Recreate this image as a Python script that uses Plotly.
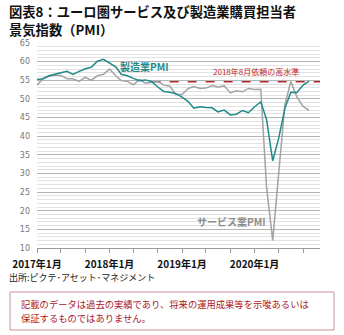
import plotly.graph_objects as go
import pandas as pd

months = pd.date_range("2017-01-01", "2020-10-01", freq="MS")

manufacturing = [
    55.2, 55.4, 56.2, 56.7, 57.0, 57.4, 56.6, 57.4, 58.1, 58.5, 60.1, 60.6,
    59.6, 58.6, 56.6, 56.2, 55.5, 54.9, 55.1, 54.6, 53.2, 52.0, 51.8, 51.4,
    50.5, 49.3, 47.5, 47.9, 47.7, 47.6, 46.5, 47.0, 45.7, 45.9, 46.9, 46.3,
    47.9, 49.2, 44.5, 33.4, 39.4, 47.4, 51.8, 51.7, 53.7, 54.8,
]
services = [
    53.7, 55.5, 56.0, 56.4, 56.3, 55.4, 55.4, 54.7, 55.8, 55.0, 56.2, 56.6,
    58.0, 56.2, 54.9, 54.7, 53.8, 55.2, 54.2, 54.4, 54.7, 53.7, 53.4, 51.2,
    51.2, 52.8, 53.3, 52.8, 52.9, 53.6, 53.2, 53.5, 51.6, 52.2, 51.9, 52.8,
    52.5, 52.6, 26.4, 12.0, 30.5, 48.3, 54.7, 50.5, 48.0, 46.9,
]
year_ticks = ["2017-01-01", "2018-01-01", "2019-01-01", "2020-01-01"]
year_labels = ["2017年1月", "2018年1月", "2019年1月", "2020年1月"]
ref_month = "2018-08-01"
x_end = "2020-11-25"

TEAL = "#1f8a89"
GRAY = "#a3a3a3"
JP = "Noto Sans CJK JP"

L, T, PW, PH = 37, 43, 283, 205


def px(x):
    return (x - L) / PW


def py(y):
    return 1 - (y - T) / PH


ref_value = manufacturing[list(months.strftime("%Y-%m-%d")).index(ref_month)]

fig = go.Figure()
fig.add_trace(go.Scatter(x=[ref_month, x_end], y=[ref_value, ref_value], mode="lines",
                         line=dict(color="#b02a2a", width=1.5, dash="dash"), hoverinfo="skip"))
fig.add_trace(go.Scatter(x=months, y=services, mode="lines",
                         line=dict(color=GRAY, width=1.5)))
fig.add_trace(go.Scatter(x=months, y=manufacturing, mode="lines",
                         line=dict(color=TEAL, width=1.5)))

# white gaps in the horizontal grid at each 4-month tick
for d in pd.date_range("2017-05-01", "2020-09-01", freq="4MS"):
    fig.add_shape(type="line", xref="x", yref="paper", x0=d, x1=d, y0=0, y1=1,
                  line=dict(color="white", width=2), layer="between")

fig.update_layout(
    width=344, height=335,
    margin=dict(l=L, r=344 - L - PW, t=T, b=335 - T - PH),
    paper_bgcolor="white", plot_bgcolor="white",
    showlegend=False,
    font=dict(family=JP),
)
fig.update_xaxes(
    range=["2017-01-01", x_end], tickvals=year_ticks, ticktext=[f"<b>{t}</b>" for t in year_labels],
    showgrid=False, showline=True, linecolor="#999999", linewidth=1,
    ticks="outside", ticklen=4, tickcolor="#999999", ticklabelstandoff=3,
    tickfont=dict(family=JP, size=10, color="#111111"),
    minor=dict(dtick="M4", tick0="2017-01-01", ticks="outside", ticklen=4,
               tickcolor="#999999", showgrid=False),
    zeroline=False,
)
fig.update_yaxes(
    range=[10, 65], dtick=5, showgrid=True, gridcolor="#b4b4b4", gridwidth=1,
    tickfont=dict(family="DejaVu Sans", size=8, color="#777777"),
    ticks="", ticklabelstandoff=6,
    minor=dict(dtick=1, showgrid=True, gridcolor="#e2e2e2", gridwidth=1),
    zeroline=False, showline=False,
)

fig.add_annotation(xref="paper", yref="paper", x=px(8), y=py(11.5), xanchor="left", yanchor="middle",
                   text="<b>図表8：ユーロ圏サービス及び製造業購買担当者</b>",
                   showarrow=False, align="left", borderpad=0,
                   font=dict(family=JP, size=13.3, color="#111111"))
fig.add_annotation(xref="paper", yref="paper", x=px(8), y=py(29.5), xanchor="left", yanchor="middle",
                   text="<b>景気指数（PMI）</b>",
                   showarrow=False, align="left", borderpad=0,
                   font=dict(family=JP, size=13.3, color="#111111"))
fig.add_annotation(x="2018-06-28", y=58.8, text="<b>製造業PMI</b>", showarrow=False,
                   font=dict(family=JP, size=10, color=TEAL))
fig.add_annotation(x="2019-09-07", y=17, text="<b>サービス業PMI</b>", showarrow=False,
                   font=dict(family=JP, size=10, color="#8c8c8c"))
fig.add_annotation(x="2020-01-07", y=57.4, text="2018年8月依頼の高水準", showarrow=False,
                   font=dict(family=JP, size=8, color="#c0282d"))
fig.add_annotation(xref="paper", yref="paper", x=px(7), y=py(277),
                   xanchor="left", yanchor="middle", text="出所:ピクテ･アセット･マネジメント",
                   showarrow=False, font=dict(family=JP, size=9, color="#222222"))

# disclaimer box
fig.add_shape(type="rect", xref="paper", yref="paper",
              x0=px(10), x1=px(334), y0=py(330), y1=py(292),
              line=dict(color="#c89098", width=1), fillcolor="white")
fig.add_annotation(xref="paper", yref="paper", x=px(20), y=py(304),
                   xanchor="left", yanchor="middle", align="left", showarrow=False, borderpad=0,
                   text="記載のデータは過去の実績であり、将来の運用成果等を示唆あるいは",
                   font=dict(family=JP, size=9.3, color="#a8182c"))
fig.add_annotation(xref="paper", yref="paper", x=px(20), y=py(318),
                   xanchor="left", yanchor="middle", align="left", showarrow=False, borderpad=0,
                   text="保証するものではありません。",
                   font=dict(family=JP, size=9.3, color="#a8182c"))

fig.write_html("out.html")
